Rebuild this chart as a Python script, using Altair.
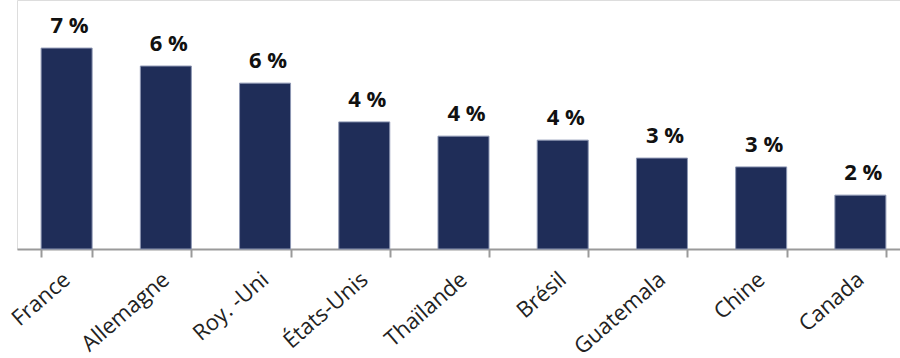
import altair as alt
import pandas as pd

# Share by country (percent)
countries = ["France", "Allemagne", "Roy. -Uni", "États-Unis", "Thaïlande",
             "Brésil", "Guatemala", "Chine", "Canada"]
shares = [7.05, 6.42, 5.82, 4.46, 3.96, 3.82, 3.19, 2.88, 1.89]

df = pd.DataFrame({"pays": countries, "part": shares})
df["label"] = df["part"].round(0).astype(int).astype(str) + " %"

x = alt.X(
    "pays:N",
    sort=countries,
    title=None,
    scale=alt.Scale(range=[0, 893], paddingInner=0.486, paddingOuter=0.243),
    axis=alt.Axis(
        tickBand="extent",
        domainColor="#9a9a9a",
        domainWidth=2,
        tickColor="#9a9a9a",
        tickWidth=2,
        tickSize=8,
        labelAngle=-41,
        labelAlign="right",
        labelBaseline="middle",
        labelPadding=19,
        labelFont="Open Sans",
        labelFontSize=22,
        labelColor="#222222",
    ),
)
y = alt.Y("part:Q", title=None, scale=alt.Scale(domain=[0, 8.737], nice=False),
          axis=None)

bars = alt.Chart(df).mark_bar(
    color="#1f2d58", stroke="#8d97b3", strokeWidth=1
).encode(x=x, y=y)

labels = alt.Chart(df).mark_text(
    font="Open Sans", fontWeight="bold", fontSize=22, color="#111111",
    baseline="bottom", dy=-10, dx=3
).encode(x=x, y=y, text="label:N")

chart = (
    (bars + labels)
    .properties(
        width=883,
        height=249,
        autosize=alt.AutoSizeParams(type="none"),
        padding={"left": 17, "right": 0, "top": 0, "bottom": 109},
    )
    .configure_view(stroke=None)
    .configure(background="white")
)

chart.save("out.html", embed_options={"renderer": "svg", "actions": False})
